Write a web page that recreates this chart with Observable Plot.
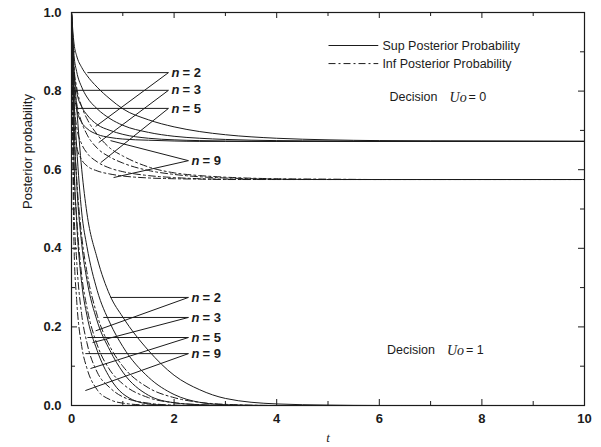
<!DOCTYPE html>
<html><head><meta charset="utf-8">
<script src="https://cdn.jsdelivr.net/npm/d3@7"></script>
<script src="https://cdn.jsdelivr.net/npm/@observablehq/plot@0.6"></script>
<style>body{margin:0;background:#fff;font-family:"Liberation Sans",Arial,sans-serif}</style>
</head><body><div id="chart"></div>
<script>
// shared time grid
const tValues = [0, 0.05, 0.1, 0.2, 0.3, 0.5, 0.75, 1, 1.5, 2, 2.5, 3, 4, 5, 6, 8, 10];
const nValues = [2, 3, 5, 9];

// Decision Uo = 0 : Sup (solid) curves
const topSupN2 = [1, 0.92, 0.89, 0.86, 0.84, 0.81, 0.78, 0.755, 0.727, 0.709, 0.697, 0.689, 0.680, 0.676, 0.674, 0.673, 0.672];
const topSupN3 = [1, 0.89, 0.85, 0.81, 0.785, 0.755, 0.73, 0.713, 0.695, 0.685, 0.68, 0.677, 0.674, 0.673, 0.672, 0.672, 0.672];
const topSupN5 = [1, 0.85, 0.80, 0.76, 0.74, 0.715, 0.70, 0.69, 0.68, 0.676, 0.674, 0.673, 0.672, 0.672, 0.672, 0.672, 0.672];
const topSupN9 = [1, 0.80, 0.755, 0.72, 0.705, 0.69, 0.682, 0.678, 0.675, 0.673, 0.672, 0.672, 0.672, 0.672, 0.672, 0.672, 0.672];
// Decision Uo = 0 : Inf (dash-dot) curves
const topInfN2 = [1, 0.86, 0.81, 0.76, 0.73, 0.69, 0.655, 0.635, 0.607, 0.592, 0.585, 0.581, 0.577, 0.576, 0.575, 0.575, 0.575];
const topInfN3 = [1, 0.82, 0.77, 0.72, 0.69, 0.655, 0.632, 0.617, 0.598, 0.588, 0.582, 0.579, 0.576, 0.575, 0.575, 0.575, 0.575];
const topInfN5 = [1, 0.77, 0.71, 0.665, 0.643, 0.62, 0.604, 0.595, 0.585, 0.58, 0.577, 0.576, 0.575, 0.575, 0.575, 0.575, 0.575];
const topInfN9 = [1, 0.71, 0.66, 0.625, 0.61, 0.597, 0.589, 0.584, 0.579, 0.577, 0.576, 0.575, 0.575, 0.575, 0.575, 0.575, 0.575];
// Decision Uo = 1 : Sup (solid) curves
const botSupN2 = [1, 0.85, 0.76, 0.60, 0.49, 0.375, 0.28, 0.225, 0.14, 0.077, 0.04, 0.018, 0.004, 0.001, 0, 0, 0];
const botSupN3 = [1, 0.78, 0.66, 0.49, 0.405, 0.293, 0.21, 0.15, 0.072, 0.028, 0.008, 0.002, 0, 0, 0, 0, 0];
const botSupN5 = [1, 0.72, 0.57, 0.41, 0.32, 0.215, 0.14, 0.085, 0.026, 0.007, 0.002, 0, 0, 0, 0, 0, 0];
const botSupN9 = [1, 0.62, 0.47, 0.31, 0.23, 0.14, 0.07, 0.03, 0.004, 0, 0, 0, 0, 0, 0, 0, 0];
// Decision Uo = 1 : Inf (dash-dot) curves
const botInfN2 = [1, 0.70, 0.58, 0.43, 0.34, 0.23, 0.15, 0.10, 0.045, 0.02, 0.008, 0.003, 0, 0, 0, 0, 0];
const botInfN3 = [1, 0.60, 0.48, 0.33, 0.25, 0.155, 0.09, 0.055, 0.02, 0.007, 0.002, 0, 0, 0, 0, 0, 0];
const botInfN5 = [1, 0.50, 0.37, 0.23, 0.16, 0.085, 0.045, 0.022, 0.006, 0.001, 0, 0, 0, 0, 0, 0, 0];
const botInfN9 = [1, 0.40, 0.27, 0.15, 0.095, 0.04, 0.015, 0.006, 0.001, 0, 0, 0, 0, 0, 0, 0, 0];

// annotation anchors (label position, sup pointer end, inf pointer end)
const topLabelT = [1.89, 1.89, 1.89, 2.28];
const topLabelP = [0.847, 0.802, 0.756, 0.623];
const topSupEndT = [0.31, 0.04, 0.08, 0.76];
const topSupEndP = [0.847, 0.802, 0.756, 0.674];
const topInfEndT = [0.47, 0.53, 0.57, 0.82];
const topInfEndP = [0.71, 0.669, 0.618, 0.58];
const botLabelT = [2.28, 2.28, 2.28, 2.28];
const botLabelP = [0.275, 0.224, 0.173, 0.132];
const botSupEndT = [0.76, 0.62, 0.31, 0.27];
const botInfEndT = [0.47, 0.41, 0.37, 0.27];
const botInfEndP = [0.19, 0.16, 0.094, 0.038];

// legend and decision texts
const legendLabels = ["Sup Posterior Probability", "Inf Posterior Probability"];
const legendP = [0.916, 0.870];
const legendT = [5.01, 5.98, 6.06];
const decisionLabels = ["0", "1"];
const decisionT = [6.2, 6.15];
const decisionP = [0.784, 0.14];

const xMajor = [0, 2, 4, 6, 8, 10];
const xMinor = [1, 3, 5, 7, 9];
const yMajor = [0, 0.2, 0.4, 0.6, 0.8, 1.0];
const yMinor = [0.1, 0.3, 0.5, 0.7, 0.9];

const curveSets = [
  ["top", "sup", [topSupN2, topSupN3, topSupN5, topSupN9]],
  ["top", "inf", [topInfN2, topInfN3, topInfN5, topInfN9]],
  ["bot", "sup", [botSupN2, botSupN3, botSupN5, botSupN9]],
  ["bot", "inf", [botInfN2, botInfN3, botInfN5, botInfN9]]
];
const rows = [];
for (const [g, kind, arrs] of curveSets) arrs.forEach((vals, j) => vals.forEach((p, i) => rows.push({key: g + kind + nValues[j], kind, t: tValues[i], p})));

const segs = [];
const labels = [];
nValues.forEach((n, i) => {
  segs.push({x1: topLabelT[i], y1: topLabelP[i], x2: topSupEndT[i], y2: topSupEndP[i]});
  segs.push({x1: topLabelT[i], y1: topLabelP[i], x2: topInfEndT[i], y2: topInfEndP[i]});
  segs.push({x1: botLabelT[i], y1: botLabelP[i], x2: botSupEndT[i], y2: botLabelP[i]});
  segs.push({x1: botLabelT[i], y1: botLabelP[i], x2: botInfEndT[i], y2: botInfEndP[i]});
  labels.push({t: topLabelT[i], p: topLabelP[i], n});
  labels.push({t: botLabelT[i], p: botLabelP[i], n});
});
const legendRows = legendLabels.map((s, i) => ({s, p: legendP[i], dash: i === 0 ? null : "7,3,2,3"}));
const decisions = decisionLabels.map((s, i) => ({s, t: decisionT[i], p: decisionP[i]}));

const W = 601, H = 447, mL = 71, mR = 17, mT = 12, mB = 42;
const pw = W - mL - mR, ph = H - mT - mB;
const ink = "#1b1b1b";

const chart = Plot.plot({
  width: W, height: H,
  marginLeft: mL, marginRight: mR, marginTop: mT, marginBottom: mB,
  style: {fontFamily: "'Liberation Sans', Arial, sans-serif", fontSize: "13px", color: ink, background: "#fff"},
  x: {domain: [0, 10]},
  y: {domain: [0, 1]},
  marks: [
    Plot.frame({stroke: ink, strokeWidth: 1.2}),
    // inward ticks
    Plot.ruleX(xMajor, {insetTop: ph - 6, stroke: ink}),
    Plot.ruleX(xMajor, {insetBottom: ph - 6, stroke: ink}),
    Plot.ruleX(xMinor, {insetTop: ph - 4, stroke: ink}),
    Plot.ruleX(xMinor, {insetBottom: ph - 4, stroke: ink}),
    Plot.ruleY(yMajor, {insetRight: pw - 6, stroke: ink}),
    Plot.ruleY(yMajor, {insetLeft: pw - 6, stroke: ink}),
    Plot.ruleY(yMinor, {insetRight: pw - 4, stroke: ink}),
    Plot.ruleY(yMinor, {insetLeft: pw - 4, stroke: ink}),
    Plot.axisX({ticks: xMajor, tickSize: 0, tickPadding: 8, label: null, fontWeight: "bold", fontSize: 13}),
    Plot.axisY({ticks: yMajor, tickSize: 0, tickPadding: 10, tickFormat: ".1f", label: null, fontWeight: "bold", fontSize: 13}),
    Plot.text(["t"], {frameAnchor: "bottom", dy: 36, fontStyle: "italic", fontFamily: "'Liberation Serif', serif", fontSize: 13}),
    Plot.text(["Posterior probability"], {frameAnchor: "left", rotate: -90, dx: -44, fontSize: 13}),
    // curves
    Plot.line(rows.filter(d => d.kind === "sup"), {x: "t", y: "p", z: "key", stroke: ink, strokeWidth: 1, curve: "monotone-x"}),
    Plot.line(rows.filter(d => d.kind === "inf"), {x: "t", y: "p", z: "key", stroke: ink, strokeWidth: 1, strokeDasharray: "7,3,2,3", curve: "monotone-x"}),
    // pointers and labels
    Plot.link(segs, {x1: "x1", y1: "y1", x2: "x2", y2: "y2", stroke: ink, strokeWidth: 1}),
    Plot.text(labels, {x: "t", y: "p", text: () => "n", textAnchor: "start", dx: 3, fontStyle: "italic", fontWeight: "bold", fontSize: 13}),
    Plot.text(labels, {x: "t", y: "p", text: d => "= " + d.n, textAnchor: "start", dx: 14, fontWeight: "bold", fontSize: 13}),
    // legend
    Plot.link(legendRows.filter(d => !d.dash), {x1: () => legendT[0], x2: () => legendT[1], y1: "p", y2: "p", stroke: ink}),
    Plot.link(legendRows.filter(d => d.dash), {x1: () => legendT[0], x2: () => legendT[1], y1: "p", y2: "p", stroke: ink, strokeDasharray: "7,3,2,3"}),
    Plot.text(legendRows, {x: () => legendT[2], y: "p", text: "s", textAnchor: "start", fontSize: 12.5}),
    Plot.text(decisions, {x: "t", y: "p", text: () => "Decision", textAnchor: "start", fontSize: 12.5}),
    Plot.text(decisions, {x: "t", y: "p", text: () => "Uo", textAnchor: "start", dx: 60, fontStyle: "italic", fontFamily: "'Liberation Serif', serif", fontSize: 14}),
    Plot.text(decisions, {x: "t", y: "p", text: d => "= " + d.s, textAnchor: "start", dx: 79, fontSize: 12.5})
  ]
});
document.getElementById("chart").appendChild(chart);
</script>
</body></html>
